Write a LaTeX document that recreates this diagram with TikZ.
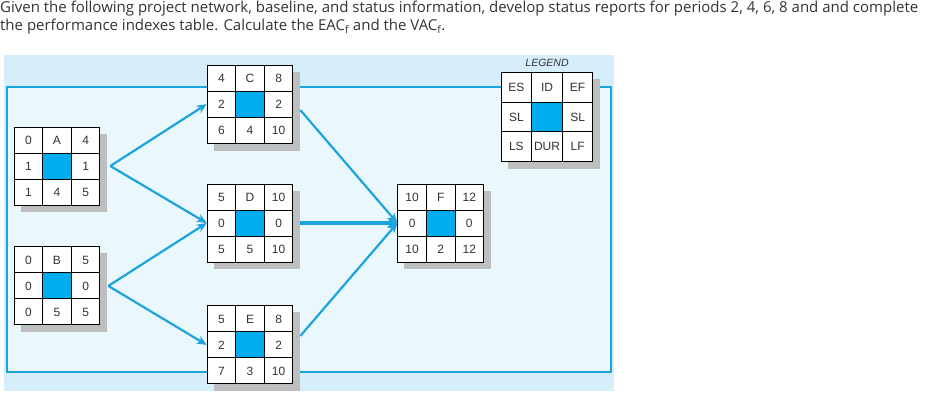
\documentclass[tikz,border=0pt]{standalone}
\usepackage{fontspec}
\setmainfont{Liberation Sans}
\newfontfamily\taskfont{Open Sans}
\usepackage{tikz}
\usetikzlibrary{matrix, positioning, arrows.meta, shadows}

\definecolor{netblue}{RGB}{27,164,221}
\definecolor{cellblue}{RGB}{0,174,239}
\definecolor{panelblue}{RGB}{213,238,250}
\definecolor{innerblue}{RGB}{234,247,253}
\definecolor{shadowgray}{RGB}{188,190,192}
\definecolor{textgray}{RGB}{51,51,51}

\tikzset{
  cell/.style={rectangle, draw=black, fill=white, line width=0.9pt,
    minimum width=28.6pt, minimum height=26pt, inner sep=0pt,
    text height=8.5pt, text depth=0pt,
    font=\fontsize{12}{12}\selectfont, text=textgray},
  mid/.style={fill=cellblue},
  act/.style={matrix of nodes, nodes in empty cells, nodes={cell},
    column sep=-0.9pt, row sep=-0.9pt, inner sep=0pt, outer sep=0pt, fill=white,
    drop shadow={shadow xshift=7pt, shadow yshift=-7pt, fill=shadowgray, opacity=1}},
  leg/.style={act, nodes={minimum width=30.6pt, minimum height=29.4pt,
    font=\fontsize{12}{12}\selectfont}},
  arrow/.style={-{Stealth[length=10pt, width=8.5pt]}, line width=2.2pt, netblue},
  critarrow/.style={arrow, line width=4pt, -{Stealth[length=10pt, width=10pt]}},
  title/.style={font=\fontsize{10.5}{12}\selectfont\itshape, text=textgray, inner sep=0pt}
}

\begin{document}
\begin{tikzpicture}[x=1pt, y=-1pt]
  \useasboundingbox (0,0) rectangle (941,408);
  \node[anchor=north west, align=left, inner sep=0pt, text=textgray,
    font=\taskfont\fontsize{15}{18.5}\selectfont] (task) at (0,0.5)
    {Given the following project network, baseline, and status information, develop status reports for periods 2, 4, 6, 8 and and complete\\
     the performance indexes table. Calculate the EAC\textsubscript{f} and the VAC\textsubscript{f}.};

  % panel
  \fill[panelblue] (4,55) rectangle (614,391);
  \draw[netblue, line width=2.2pt, fill=innerblue] (7,87) rectangle (611,372);

  % activities
  \matrix (D) [act] at (250,223) {5 & D & 10\\ 0 & |[mid]| & 0\\ 5 & 5 & 10\\};
  \matrix (C) [act, above=40pt of D] {4 & C & 8\\ 2 & |[mid]| & 2\\ 6 & 4 & 10\\};
  \matrix (E) [act, below=43pt of D] {5 & E & 8\\ 2 & |[mid]| & 2\\ 7 & 3 & 10\\};
  \matrix (F) [act, right=104pt of D] {10 & F & 12\\ 0 & |[mid]| & 0\\ 10 & 2 & 12\\};
  \matrix (A) [act] at (57,166) {0 & A & 4\\ 1 & |[mid]| & 1\\ 1 & 4 & 5\\};
  \matrix (B) [act, below=41pt of A] {0 & B & 5\\ 0 & |[mid]| & 0\\ 0 & 5 & 5\\};

  % legend
  \matrix (L) [leg] at (547,117) {ES & ID & EF\\ SL & |[mid]| & SL\\ LS & DUR & LF\\};
  \node[title, above=6pt of L] (Ltitle) {LEGEND};

  \draw[arrow] ([xshift=10pt]A.east) -- (C.west);
  \draw[arrow] ([xshift=10pt]A.east) -- (D.west);
  \draw[arrow] ([xshift=8pt]B.east) -- (D.west);
  \draw[arrow] ([xshift=8pt]B.east) -- (E.west);
  \draw[arrow] ([xshift=7pt, yshift=-6pt]C.east) -- (F.west);
  \draw[critarrow] ([xshift=7pt]D.east) -- (F.west);
  \draw[arrow] ([xshift=7pt, yshift=9pt]E.east) -- (F.west);
\end{tikzpicture}
\end{document}
